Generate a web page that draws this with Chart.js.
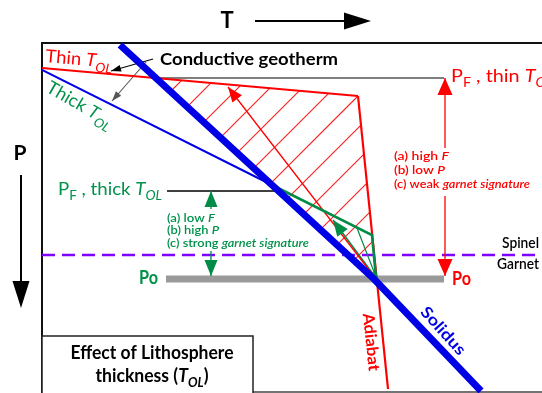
<!DOCTYPE html>
<html>
<head>
<meta charset="utf-8">
<script src="https://cdn.jsdelivr.net/npm/chart.js@4/dist/chart.umd.min.js"></script>
<style>
  html, body { margin: 0; padding: 0; background: #fff; }
  #wrap { width: 542px; height: 393px; }
</style>
</head>
<body>
<div id="wrap"><canvas id="c" width="542" height="393"></canvas></div>
<script>
// Schematic melting diagram: temperature T to the right, pressure P downward (arbitrary units)
const solidusT = [15.6, 66.4, 87.8];
const solidusP = [0.4, 47.2, 69.6];
const thinGeothermT = [0, 63.2];
const thinGeothermP = [5, 10.6];
const adiabatT = [63.2, 69.2];
const adiabatP = [10.6, 69.2];
const thickGeothermT = [0, 46];
const thickGeothermP = [5.4, 28.4];
const thickPathT = [46, 66, 66.8];
const thickPathP = [28.4, 38.4, 47];
const thickAdiabatT = [63, 66.8];
const thickAdiabatP = [37, 46.8];

// pressure levels
const pfThinP = 7;
const pfThickP = 29.6;
const spinelGarnetP = 42.4;
const poP = 47.2;
const pfThinT = [22, 80.4];
const pfThickT = [25, 47];
const poT = [24.8, 80.4];

// melting-column arrows: [T start, P start, T tip, P tip]
const thinMeltArrow = [66.8, 47.2, 37.2, 8.8];
const thickMeltArrow = [66.8, 47, 58.2, 35.4];
const thinRangeT = 80.6;
const thinRangeP = [21, 7, 30.6, 46.6];
const thickRangeT = 33.8;
const thickRangeP = [33.2, 29.6, 41.6, 46.6];
const geothermPointer = [22.2, 3.2, 13.8, 5.6];
const geothermPointer2 = [20.8, 3.8, 14, 11.6];

// hatching of the thin-lid melting region: lines of constant T+P
const hatchStart = 35.4;
const hatchStep = 6.4;

const RED = 'rgb(255,0,0)', HATCH = 'rgb(255,30,30)', BLUE = 'rgb(0,0,230)';
const GREEN = 'rgb(0,140,70)', GREEN_TXT = 'rgb(0,146,74)', PURPLE = 'rgb(127,0,255)';
const FONT = 'Lato, "Open Sans", sans-serif';

const pts = (T, P) => T.map((t, i) => ({ x: t, y: P[i] }));
const seg = (data, color, width, order, extra) => Object.assign({
  data: data, borderColor: color, backgroundColor: color, borderWidth: width,
  pointRadius: 0, fill: false, tension: 0, order: order
}, extra || {});

function hitPolyline(T, P, s) {
  for (let i = 0; i < T.length - 1; i++) {
    const a = T[i] + P[i], b = T[i + 1] + P[i + 1];
    if (a !== b && (s - a) * (s - b) <= 0) {
      const u = (s - a) / (b - a);
      return { x: T[i] + u * (T[i + 1] - T[i]), y: P[i] + u * (P[i + 1] - P[i]) };
    }
  }
  return null;
}

// one dataset holding every hatch stroke, strokes separated by gaps
const boundT = thinGeothermT.concat(adiabatT.slice(1));
const boundP = thinGeothermP.concat(adiabatP.slice(1));
const hatchPts = [];
for (let s = hatchStart; s < 160; s += hatchStep) {
  const a = hitPolyline(solidusT, solidusP, s);
  const b = hitPolyline(boundT, boundP, s);
  if (a && b && a.x < b.x) {
    if (hatchPts.length) hatchPts.push({ x: (a.x + b.x) / 2, y: null });
    hatchPts.push(a, b);
  }
}

const arrowDs = (arr, color, width, head, order) =>
  seg([{ x: arr[0], y: arr[1] }, { x: arr[2], y: arr[3] }], color, width, order, { arrowHead: head });

const datasets = [
  seg(pts(solidusT, solidusP), BLUE, 7, 1),
  seg(pts(thickPathT, thickPathP), GREEN, 2.6, 2),
  seg(pts(thickAdiabatT, thickAdiabatP), GREEN, 1.2, 2),
  seg(pts(thickGeothermT, thickGeothermP), BLUE, 2, 3),
  seg(pts(thinGeothermT, thinGeothermP), RED, 2.2, 3),
  seg(pts(adiabatT, adiabatP), RED, 2.2, 3),
  arrowDs(thinMeltArrow, RED, 1.3, [15, 12], 4),
  arrowDs(thickMeltArrow, GREEN, 1.5, [16, 13], 4),
  arrowDs([thinRangeT, thinRangeP[0], thinRangeT, thinRangeP[1]], RED, 1.3, [17, 15], 4),
  arrowDs([thinRangeT, thinRangeP[2], thinRangeT, thinRangeP[3]], RED, 1.3, [17, 15], 4),
  arrowDs([thickRangeT, thickRangeP[0], thickRangeT, thickRangeP[1]], GREEN, 1.3, [16, 13], 4),
  arrowDs([thickRangeT, thickRangeP[2], thickRangeT, thickRangeP[3]], GREEN, 1.3, [16, 13], 4),
  arrowDs(geothermPointer, '#000', 1.1, [10, 7], 4),
  arrowDs(geothermPointer2, '#555', 1.1, [10, 7], 4),
  seg([{ x: pfThinT[0], y: pfThinP }, { x: pfThinT[1], y: pfThinP }], '#555', 1.4, 6),
  seg([{ x: pfThickT[0], y: pfThickP }, { x: pfThickT[1], y: pfThickP }], '#000', 1.3, 6),
  seg([{ x: poT[0], y: poP }, { x: poT[1], y: poP }], '#9a9a9a', 7, 5),
  seg([{ x: 0, y: spinelGarnetP }, { x: 100, y: spinelGarnetP }], PURPLE, 2.4, 6, { borderDash: [13, 7] }),
  seg(hatchPts, HATCH, 1.1, 9, { spanGaps: false })
];

function head(ctx, x0, y0, x1, y1, len, wid, color) {
  const a = Math.atan2(y1 - y0, x1 - x0);
  const bx = x1 - len * Math.cos(a), by = y1 - len * Math.sin(a);
  const nx = -Math.sin(a) * wid / 2, ny = Math.cos(a) * wid / 2;
  ctx.beginPath();
  ctx.moveTo(x1, y1);
  ctx.lineTo(bx + nx, by + ny);
  ctx.lineTo(bx - nx, by - ny);
  ctx.closePath();
  ctx.fillStyle = color;
  ctx.fill();
}

function drawRich(ctx, L) {
  const size = L.size;
  const runs = L.runs.map(r => (typeof r === 'string' ? { t: r } : Object.assign({}, r)));
  const fontFor = r => `${r.it ? 'italic ' : ''}${L.weight || 'normal'} ${r.sub ? Math.round(size * 0.7) : size}px ${FONT}`;
  let total = 0;
  runs.forEach(r => { ctx.font = fontFor(r); r.w = ctx.measureText(r.t).width; total += r.w; });
  const sx = L.w ? L.w / total : 1;
  ctx.save();
  ctx.translate(L.x, L.y);
  if (L.rot) ctx.rotate(L.rot * Math.PI / 180);
  ctx.scale(sx, 1);
  let x0 = L.align === 'center' ? -total / 2 : L.align === 'right' ? -total : 0;
  ctx.fillStyle = L.color;
  ctx.textBaseline = L.base || 'alphabetic';
  runs.forEach(r => {
    ctx.font = fontFor(r);
    ctx.fillText(r.t, x0, r.sub ? size * 0.3 : 0);
    x0 += r.w;
  });
  ctx.restore();
}

const TOL = [{ t: 'T', it: true }, { t: 'OL', it: true, sub: true }];
const labels = [
  { runs: ['T'], x: 227, y: 28, size: 22, weight: 'bold', color: '#000', align: 'center' },
  { runs: ['P'], x: 20, y: 160, size: 21, weight: 'bold', color: '#000', align: 'center' },
  { runs: ['Thin '].concat(TOL), x: 45, y: 62, size: 18, color: RED, rot: 5, w: 67 },
  { runs: ['Conductive geotherm'], x: 160, y: 65, size: 17, weight: 'bold', color: '#000', w: 178 },
  { runs: ['Thick '].concat(TOL), x: 45, y: 91, size: 18, color: GREEN_TXT, rot: 30, w: 74 },
  { runs: ['P', { t: 'F', sub: true }, ' , thin '].concat(TOL), x: 451, y: 82, size: 18, color: RED, w: 102 },
  { runs: ['(a) high ', { t: 'F', it: true }], x: 394, y: 160, size: 12, weight: '600', color: RED, w: 55 },
  { runs: ['(b) low ', { t: 'P', it: true }], x: 394, y: 174, size: 12, weight: '600', color: RED, w: 51 },
  { runs: ['(c) weak ', { t: 'garnet signature', it: true }], x: 394, y: 188, size: 12, weight: '600', color: RED, w: 136 },
  { runs: ['P', { t: 'F', sub: true }, ' , thick '].concat(TOL), x: 58, y: 195, size: 18, color: GREEN_TXT, w: 104 },
  { runs: ['(a) low ', { t: 'F', it: true }], x: 167, y: 222, size: 12, weight: '600', color: GREEN_TXT, w: 48 },
  { runs: ['(b) high ', { t: 'P', it: true }], x: 167, y: 234, size: 12, weight: '600', color: GREEN_TXT, w: 52 },
  { runs: ['(c) strong ', { t: 'garnet signature', it: true }], x: 167, y: 247, size: 12, weight: '600', color: GREEN_TXT, w: 142 },
  { runs: ['Spinel'], x: 539, y: 248, size: 15, weight: '600', color: '#000', align: 'right', w: 37 },
  { runs: ['Garnet'], x: 539, y: 269, size: 15, weight: '600', color: '#000', align: 'right', w: 42 },
  { runs: ['Po'], x: 139, y: 284, size: 18, weight: 'bold', color: GREEN_TXT, w: 19 },
  { runs: ['Po'], x: 452, y: 285, size: 18, weight: 'bold', color: RED, w: 19 },
  { runs: ['Adiabat'], x: 371, y: 342, size: 16, weight: 'bold', color: RED, align: 'center', base: 'middle', rot: 84, w: 58 },
  { runs: ['Solidus'], x: 443, y: 331, size: 16, weight: 'bold', color: BLUE, align: 'center', base: 'middle', rot: 48, w: 59 },
  { runs: ['Effect of Lithosphere'], x: 152, y: 359, size: 18, weight: 'bold', color: '#000', align: 'center', w: 163 },
  { runs: ['thickness ('].concat(TOL, [')']), x: 152, y: 382, size: 18, weight: 'bold', color: '#000', align: 'center', w: 113 }
];

const framePlugin = {
  id: 'frame',
  beforeDatasetsDraw(chart) {
    const { ctx, chartArea: ca, width, height } = chart;
    ctx.save();
    ctx.strokeStyle = '#111';
    ctx.lineWidth = 2;
    ctx.beginPath();
    ctx.moveTo(ca.left, height);
    ctx.lineTo(ca.left, ca.top);
    ctx.lineTo(width, ca.top);
    ctx.stroke();
    ctx.strokeStyle = '#444';
    ctx.lineWidth = 1.5;
    ctx.beginPath();
    ctx.moveTo(ca.left, ca.bottom - 1);
    ctx.lineTo(width, ca.bottom - 1);
    ctx.stroke();
    ctx.restore();
  }
};

const overlayPlugin = {
  id: 'overlay',
  afterDatasetsDraw(chart) {
    const { ctx } = chart;
    const xs = chart.scales.x, ys = chart.scales.y;
    ctx.save();
    chart.data.datasets.forEach(ds => {
      if (!ds.arrowHead) return;
      const n = ds.data.length;
      const p0 = ds.data[n - 2], p1 = ds.data[n - 1];
      head(ctx, xs.getPixelForValue(p0.x), ys.getPixelForValue(p0.y),
        xs.getPixelForValue(p1.x), ys.getPixelForValue(p1.y),
        ds.arrowHead[0], ds.arrowHead[1], ds.borderColor);
    });

    // axis direction arrows
    ctx.strokeStyle = '#000';
    ctx.lineWidth = 2;
    ctx.beginPath(); ctx.moveTo(255, 21); ctx.lineTo(350, 21); ctx.stroke();
    head(ctx, 255, 21, 371, 21, 27, 17, '#000');
    ctx.beginPath(); ctx.moveTo(21, 175); ctx.lineTo(21, 288); ctx.stroke();
    head(ctx, 21, 175, 21, 308, 27, 17, '#000');

    // caption box
    ctx.fillStyle = '#fff';
    ctx.fillRect(42, 336, 211, 57);
    ctx.strokeStyle = '#222';
    ctx.lineWidth = 1.5;
    ctx.strokeRect(42, 336, 211, 60);

    labels.forEach(L => drawRich(ctx, L));
    ctx.restore();
  }
};

new Chart(document.getElementById('c'), {
  type: 'line',
  data: { datasets: datasets },
  options: {
    responsive: false,
    animation: false,
    devicePixelRatio: 1,
    layout: { padding: { left: 42, top: 43, right: 0, bottom: 0 } },
    scales: {
      x: { type: 'linear', min: 0, max: 100, display: false },
      y: { type: 'linear', min: 0, max: 70, reverse: true, display: false }
    },
    plugins: { legend: { display: false }, tooltip: { enabled: false } },
    elements: { point: { radius: 0 }, line: { tension: 0 } }
  },
  plugins: [framePlugin, overlayPlugin]
});
</script>
</body>
</html>
